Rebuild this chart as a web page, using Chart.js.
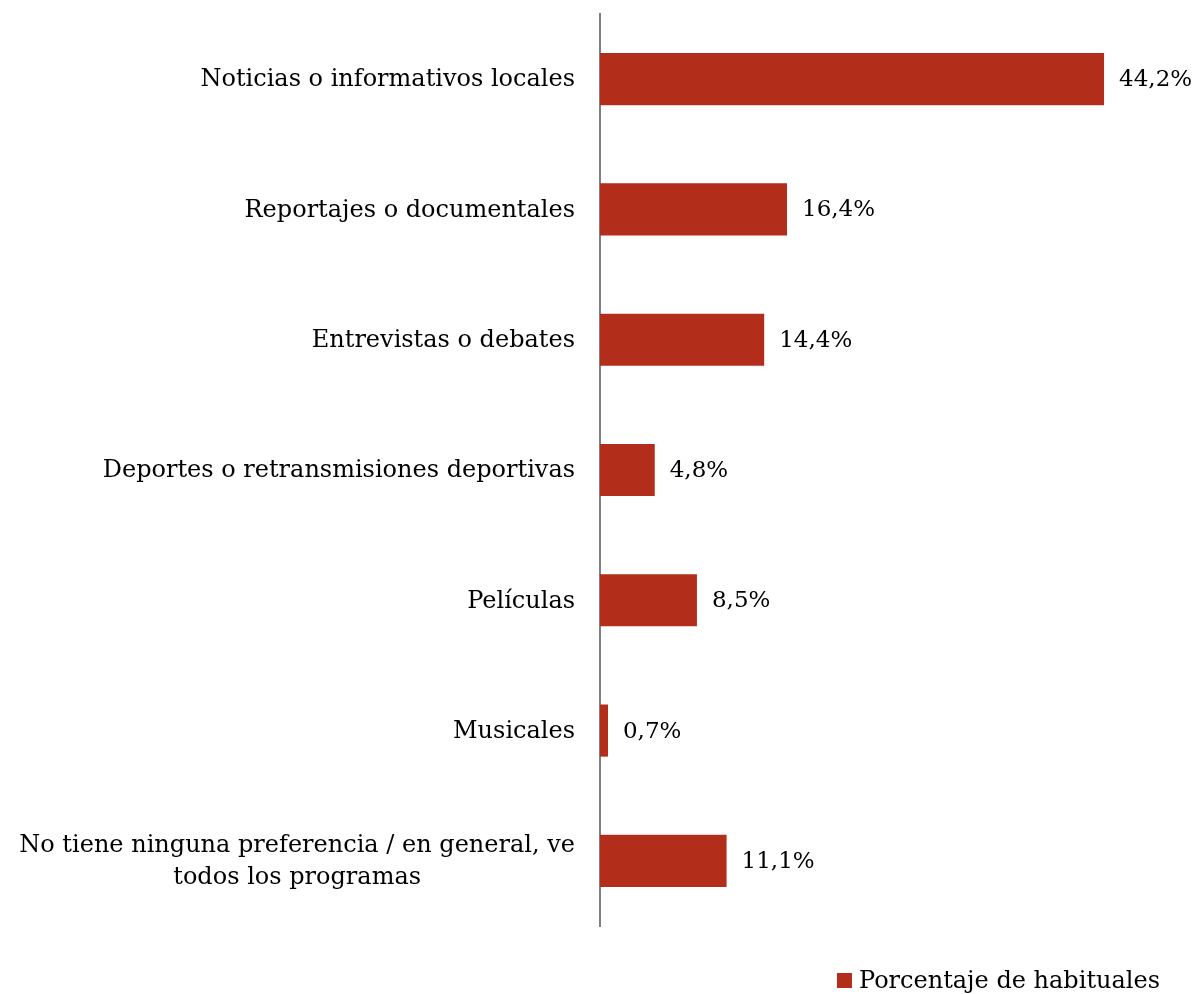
<!DOCTYPE html>
<html>
<head>
<meta charset="utf-8">
<script src="https://cdn.jsdelivr.net/npm/chart.js@4"></script>
<style>
  html, body { margin: 0; padding: 0; background: #fff; }
  #wrap { width: 1194px; height: 994px; }
</style>
</head>
<body>
<div id="wrap"><canvas id="barChart" width="1194" height="994"></canvas></div>
<script>
const categories = [
    'Noticias o informativos locales',
    'Reportajes o documentales',
    'Entrevistas o debates',
    'Deportes o retransmisiones deportivas',
    'Películas',
    'Musicales',
    ['No tiene ninguna preferencia / en general, ve', 'todos los programas']
];
const habituales = [44.2, 16.4, 14.4, 4.8, 8.5, 0.7, 11.1];
const seriesName = 'Porcentaje de habituales';

const fontFamily = '"DejaVu Serif", "Liberation Serif", serif';
const fontSize = 24;
const barColor = '#b22d1a';

// value labels after each bar, e.g. 44,2%
const valueLabels = {
    id: 'valueLabels',
    afterDatasetsDraw(chart) {
        const c = chart.ctx;
        const meta = chart.getDatasetMeta(0);
        c.save();
        c.font = '23px ' + fontFamily;
        c.fillStyle = '#000';
        c.textAlign = 'left';
        c.textBaseline = 'middle';
        meta.data.forEach(function(bar, i) {
            const txt = habituales[i].toFixed(1).replace('.', ',') + '%';
            c.fillText(txt, bar.x + 15, bar.y + 1);
        });
        c.restore();
    }
};

// category labels: right aligned, multi-line ones centred on themselves
const categoryLabels = {
    id: 'categoryLabels',
    afterDraw(chart) {
        const c = chart.ctx;
        const y = chart.scales.y;
        const right = chart.chartArea.left - 25;
        const lh = 32;
        c.save();
        c.font = fontSize + 'px ' + fontFamily;
        c.fillStyle = '#000';
        c.textBaseline = 'middle';
        c.textAlign = 'center';
        categories.forEach(function(lab, i) {
            const lines = Array.isArray(lab) ? lab : [lab];
            const w = Math.max.apply(null, lines.map(l => c.measureText(l).width));
            const cx = right - w / 2;
            const py = y.getPixelForValue(i);
            const y0 = py - (lines.length - 1) * lh / 2;
            lines.forEach(function(l, k) {
                c.fillText(l, cx, y0 + k * lh + 1);
            });
        });
        c.restore();
    }
};

// legend in the bottom right corner
const bottomLegend = {
    id: 'bottomLegend',
    afterDraw(chart) {
        const c = chart.ctx;
        const ds = chart.data.datasets[0];
        c.save();
        c.font = fontSize + 'px ' + fontFamily;
        const tw = c.measureText(ds.label).width;
        const tx = 1160 - tw;
        c.fillStyle = ds.backgroundColor;
        c.fillRect(tx - 22, 973, 15, 15);
        c.fillStyle = '#000';
        c.textAlign = 'left';
        c.textBaseline = 'middle';
        c.fillText(ds.label, tx, 982);
        c.restore();
    }
};

const ctx = document.getElementById('barChart').getContext('2d');
const barChart = new Chart(ctx, {
    type: 'bar',
    data: {
        labels: categories,
        datasets: [{
            label: seriesName,
            data: habituales,
            backgroundColor: barColor,
            categoryPercentage: 1,
            barPercentage: 0.4
        }]
    },
    options: {
        indexAxis: 'y',
        responsive: false,
        animation: false,
        events: [],
        layout: {
            padding: { top: 14, right: 1, left: 0, bottom: 68 }
        },
        scales: {
            x: {
                display: false,
                min: 0,
                max: 52
            },
            y: {
                grid: { display: false, drawTicks: false },
                border: { display: true, color: '#808080', width: 2 },
                ticks: { display: false },
                afterFit: function(scale) {
                    scale.width = 600;
                }
            }
        },
        plugins: {
            legend: { display: false },
            tooltip: { enabled: false }
        }
    },
    plugins: [valueLabels, categoryLabels, bottomLegend]
});
</script>
</body>
</html>
